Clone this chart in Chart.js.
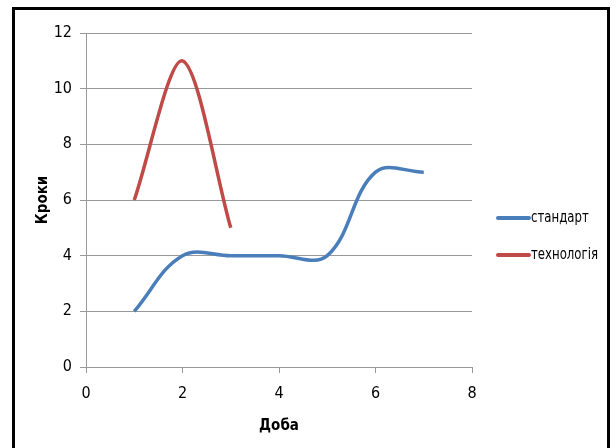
<!DOCTYPE html>
<html>
<head>
<meta charset="utf-8">
<script src="https://cdn.jsdelivr.net/npm/chart.js@4/dist/chart.umd.min.js"></script>
<style>
  html, body { margin: 0; padding: 0; background: #fff; }
  #wrap { position: relative; width: 616px; height: 448px; overflow: hidden; }
  #frame { position: absolute; left: 12px; top: 7px; width: 592px; height: 460px;
           border: 3px solid #000; pointer-events: none; }
  canvas { position: absolute; left: 0; top: 0; }
</style>
</head>
<body>
<div id="wrap">
  <canvas id="c" width="616" height="448"></canvas>
  <div id="frame"></div>
</div>
<script>
// Day numbers and step counts for both series
const standardDays = [1, 2, 3, 4, 5, 6, 7];
const standardSteps = [2, 4, 4, 4, 4, 7, 7];
const techDays = [1, 2, 3];
const techSteps = [6, 11, 5];

const seriesNames = ['стандарт', 'технологія'];
const seriesColors = ['#4A7EBB', '#BE4B48'];

const xTicks = [0, 2, 4, 6, 8];
const yTicks = [0, 2, 4, 6, 8, 10, 12];

const FONT = "'DejaVu Sans Condensed', 'DejaVu Sans', sans-serif";

const toPoints = (xs, ys) => xs.map((x, i) => ({ x: x, y: ys[i] }));

// Legend drawn at the right, a short line sample followed by the series name
const sideLegend = {
  id: 'sideLegend',
  afterDraw(chart) {
    const ctx = chart.ctx;
    const x0 = 498, x1 = 529, rows = [218, 255];
    ctx.save();
    chart.data.datasets.forEach((ds, i) => {
      const y = rows[i];
      ctx.strokeStyle = ds.borderColor;
      ctx.lineWidth = 4;
      ctx.lineCap = 'round';
      ctx.beginPath();
      ctx.moveTo(x0, y);
      ctx.lineTo(x1, y);
      ctx.stroke();
      ctx.fillStyle = '#000';
      ctx.font = '15px ' + FONT;
      ctx.textBaseline = 'middle';
      ctx.textAlign = 'left';
      // narrow the label run so it fits inside the frame
      const w = ctx.measureText(ds.label).width;
      ctx.fillText(ds.label, x1 + 2, y, w * 0.87);
    });
    ctx.restore();
  }
};

new Chart(document.getElementById('c'), {
  type: 'scatter',
  data: {
    datasets: [
      {
        label: seriesNames[0],
        data: toPoints(standardDays, standardSteps),
        borderColor: seriesColors[0],
        backgroundColor: seriesColors[0],
        showLine: true,
        tension: 0.38,
        borderWidth: 3.5,
        pointRadius: 0,
        pointHoverRadius: 0
      },
      {
        label: seriesNames[1],
        data: toPoints(techDays, techSteps),
        borderColor: seriesColors[1],
        backgroundColor: seriesColors[1],
        showLine: true,
        tension: 0.3,
        borderWidth: 3.5,
        pointRadius: 0,
        pointHoverRadius: 0
      }
    ]
  },
  options: {
    responsive: false,
    animation: false,
    layout: { padding: { left: 16, right: 144, top: 33, bottom: 0 } },
    plugins: { legend: { display: false }, tooltip: { enabled: false } },
    scales: {
      x: {
        type: 'linear',
        min: 0, max: 8,
        afterBuildTicks: s => { s.ticks = xTicks.map(v => ({ value: v })); },
        afterFit: s => { s.height = 81; },
        grid: { drawOnChartArea: false, drawTicks: true, tickLength: 6, color: '#999' },
        border: { display: true, color: '#999', width: 1 },
        ticks: { color: '#000', font: { family: FONT, size: 16 }, padding: 11, maxRotation: 0 },
        title: { display: true, text: 'Доба', color: '#000',
                 font: { family: FONT, size: 15, weight: 'bold' }, padding: { top: 0, bottom: 13 } }
      },
      y: {
        type: 'linear',
        min: 0, max: 12,
        afterBuildTicks: s => { s.ticks = yTicks.map(v => ({ value: v })); },
        afterFit: s => { s.width = 70; },
        grid: { drawOnChartArea: true, drawTicks: true, tickLength: 6, color: '#999' },
        border: { display: true, color: '#999', width: 1 },
        ticks: { color: '#000', font: { family: FONT, size: 16 }, padding: 8 },
        title: { display: true, text: 'Кроки', color: '#000',
                 font: { family: FONT, size: 15, weight: 'bold' }, padding: { top: 18, bottom: 0 } }
      }
    }
  },
  plugins: [sideLegend]
});
</script>
</body>
</html>
